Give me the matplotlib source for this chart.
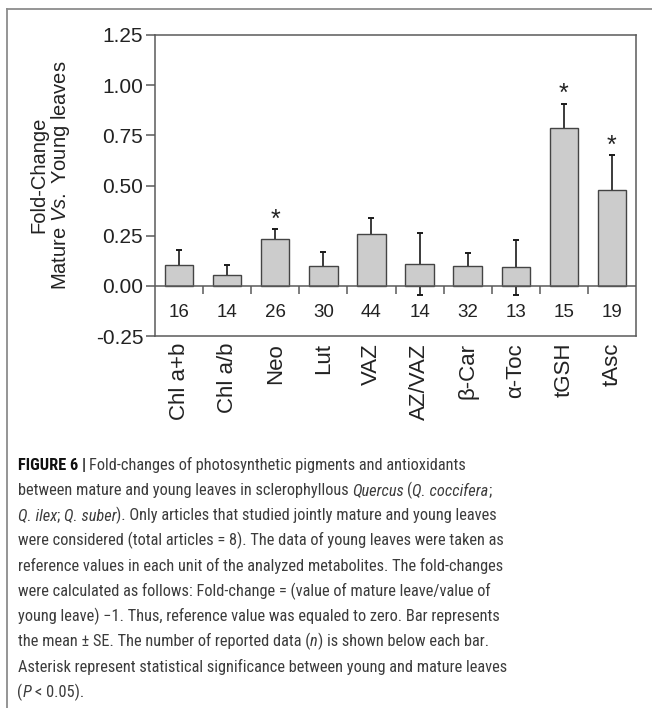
import matplotlib
matplotlib.use("Agg")
import matplotlib.pyplot as plt
from matplotlib import font_manager
from matplotlib.lines import Line2D
import numpy as np

# fold-change (mature vs young)
categories = ["Chl a+b", "Chl a/b", "Neo", "Lut", "VAZ", "AZ/VAZ", "β-Car", "α-Toc", "tGSH", "tAsc"]
fold_change = [0.102, 0.055, 0.233, 0.097, 0.258, 0.108, 0.099, 0.092, 0.787, 0.478]
se = [0.076, 0.048, 0.049, 0.070, 0.079, 0.154, 0.066, 0.136, 0.121, 0.172]
n_reported = [16, 14, 26, 30, 44, 14, 32, 13, 15, 19]
significant = [False, False, True, False, False, False, False, False, True, True]
y_ticks = [-0.25, 0.0, 0.25, 0.5, 0.75, 1.0, 1.25]

caption_lines = [
    [("FIGURE 6 | ", "bold"), ("Fold-changes of photosynthetic pigments and antioxidants", "normal")],
    [("between mature and young leaves in sclerophyllous ", "normal"), ("Quercus", "italic"),
     (" (", "normal"), ("Q. coccifera", "italic"), (";", "normal")],
    [("Q. ilex", "italic"), ("; ", "normal"), ("Q. suber", "italic"),
     ("). Only articles that studied jointly mature and young leaves", "normal")],
    [("were considered (total articles = 8). The data of young leaves were taken as", "normal")],
    [("reference values in each unit of the analyzed metabolites. The fold-changes", "normal")],
    [("were calculated as follows: Fold-change = (value of mature leave/value of", "normal")],
    [("young leave) −1. Thus, reference value was equaled to zero. Bar represents", "normal")],
    [("the mean ± SE. The number of reported data (", "normal"), ("n", "italic"),
     (") is shown below each bar.", "normal")],
    [("Asterisk represent statistical significance between young and mature leaves", "normal")],
    [("(", "normal"), ("P", "italic"), (" < 0.05).", "normal")],
]

W, H = 652, 708
plt.rcParams['font.family'] = ['Liberation Sans', 'DejaVu Sans']
plt.rcParams['axes.unicode_minus'] = False
plt.rcParams['mathtext.fontset'] = 'custom'
plt.rcParams['mathtext.rm'] = 'Liberation Sans'
plt.rcParams['mathtext.it'] = 'Liberation Sans:italic'
plt.rcParams['mathtext.bf'] = 'Liberation Sans:bold'

installed = {f.name for f in font_manager.fontManager.ttflist}
caption_family = next((f for f in ["Liberation Sans Narrow", "Noto Sans Condensed", "Roboto Condensed",
                                   "Open Sans Condensed"] if f in installed), "Roboto")

axis_col = '#5a5a5a'
text_col = '#222222'

fig = plt.figure(figsize=(W / 100, H / 100), dpi=100)
ax = fig.add_axes([155 / W, 1 - 336 / H, 481 / W, 301 / H])

x = np.arange(len(categories))
ax.errorbar(x, fold_change, yerr=se, fmt='none', ecolor='#1a1a1a', elinewidth=1.2,
            capsize=2.3, capthick=1.4, zorder=2)
ax.bar(x, fold_change, width=0.59, color='#cccccc', edgecolor='#444444', linewidth=1.0, zorder=3)

ax.axhline(0, color=axis_col, lw=1.1, zorder=4)
ax.vlines(x[:-1] + 0.5, -0.04, 0, color=axis_col, lw=1.1, zorder=4)

for i, (v, e, n, sig) in enumerate(zip(fold_change, se, n_reported, significant)):
    ax.text(i, -0.155, str(n), ha='center', va='baseline', fontsize=13.5, color=text_col)
    if sig:
        ax.text(i, v + e + 0.012, "*", ha='center', va='baseline', fontsize=18, color=text_col)

ax.set_xlim(-0.5, len(categories) - 0.5)
ax.set_ylim(-0.25, 1.25)
ax.set_yticks(y_ticks)
ax.set_yticklabels([f"{t:.2f}" for t in y_ticks], fontsize=15, color=text_col)
ax.set_xticks(x)
ax.set_xticklabels(categories, rotation=90, fontsize=16, color=text_col)
ax.tick_params(axis='x', length=0, pad=5)
ax.tick_params(axis='y', length=6.5, width=1.1, color=axis_col, pad=2)
for s in ax.spines.values():
    s.set_color(axis_col)
    s.set_linewidth(1.1)

fig.text(39 / W, 1 - 175 / H, "Fold-Change", rotation=90, ha='center', va='center',
         fontsize=14.5, color=text_col)
fig.text(61 / W, 1 - 175 / H, r"Mature $\mathit{Vs.}$ Young leaves", rotation=90,
         ha='center', va='center', fontsize=14.5, color=text_col)

# frame around the figure panel (cut off at right/bottom like the source)
frame = dict(color='#8c8c8c', lw=1.3, transform=fig.transFigure)
fig.add_artist(Line2D([7 / W, 7 / W], [-0.01, 1 - 9 / H], **frame))
fig.add_artist(Line2D([7 / W, 1.01], [1 - 9 / H, 1 - 9 / H], **frame))

# caption, laid out piece by piece for the bold / italic runs
renderer = fig.canvas.get_renderer()


def text_width(s, size, style):
    t = fig.text(0, 0, s, fontsize=size, family=caption_family,
                 fontweight='bold' if style == 'bold' else 'normal',
                 fontstyle='italic' if style == 'italic' else 'normal')
    w = t.get_window_extent(renderer).width
    t.remove()
    return w


def draw_line(x0, y, parts, size):
    xp = x0
    for s, style in parts:
        space = text_width("a a", size, style) - text_width("aa", size, style)
        lead = len(s) - len(s.lstrip(' '))
        trail = len(s) - len(s.rstrip(' '))
        xp += lead * space
        core = s.strip(' ')
        if core:
            t = fig.text(xp / W, 1 - y / H, core, fontsize=size, family=caption_family,
                         fontweight='bold' if style == 'bold' else 'normal',
                         fontstyle='italic' if style == 'italic' else 'normal',
                         color='#111111' if style == 'bold' else '#3c3c3c', va='baseline')
            xp = t.get_window_extent(renderer).x1
        xp += trail * space


base = 10
cap_size = base * 485 / text_width(caption_lines[3][0][0], base, 'normal')
for k, parts in enumerate(caption_lines):
    draw_line(17.5, 470 + 25.2 * k, parts, cap_size)

fig.savefig("out.png", dpi=100)
